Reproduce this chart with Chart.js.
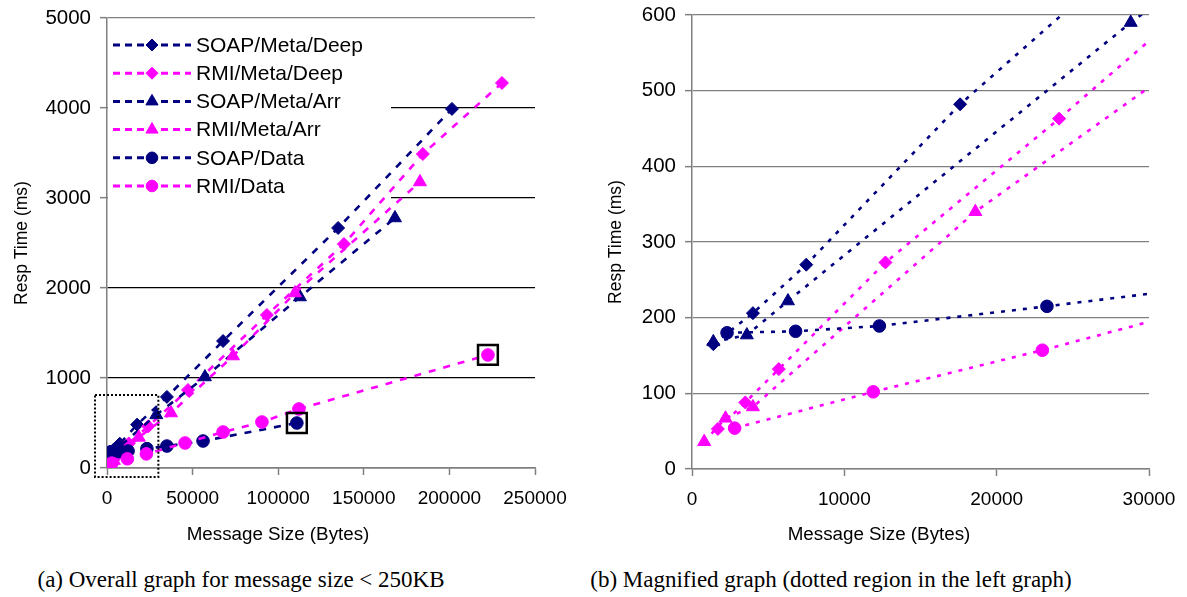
<!DOCTYPE html>
<html>
<head>
<meta charset="utf-8">
<script src="https://cdn.jsdelivr.net/npm/chart.js@4.4.0/dist/chart.umd.min.js"></script>
<style>
  body { margin: 0; background: #fff; width: 1187px; height: 597px; position: relative; overflow: hidden; }
  #chartA { position: absolute; left: 0; top: 0; }
  #chartB { position: absolute; left: 580px; top: 0; }
  .cap { position: absolute; top: 567px; line-height: 26px; font-family: "Liberation Serif", "Times New Roman", serif; font-size: 23px; white-space: nowrap; transform: translateX(-50%); color: #000; }
</style>
</head>
<body>
<canvas id="chartA" width="575" height="560"></canvas>
<canvas id="chartB" width="607" height="560"></canvas>
<div class="cap" style="left:241px">(a) Overall graph for message size &lt; 250KB</div>
<div class="cap" style="left:831px">(b) Magnified graph (dotted region in the left graph)</div>
<script>
const seriesNames = ['SOAP/Meta/Deep', 'RMI/Meta/Deep', 'SOAP/Meta/Arr', 'RMI/Meta/Arr', 'SOAP/Data', 'RMI/Data'];

const soapDeepX = [1400, 4000, 7500, 17600, 35000, 67800, 135000, 201500];
const soapDeepY = [165, 206, 270, 482, 790, 1411, 2667, 3990];
const rmiDeepX = [1700, 3500, 5700, 12700, 24100, 47300, 93400, 138400, 184500, 230700];
const rmiDeepY = [53, 88, 132, 273, 463, 867, 1700, 2489, 3489, 4278];
const soapArrX = [1400, 3600, 6300, 28800, 57200, 112700, 168200];
const soapArrY = [168, 177, 222, 590, 1011, 1900, 2778];
const rmiArrX = [800, 2200, 4000, 18600, 37400, 73600, 109800, 182800];
const rmiArrY = [36, 67, 82, 340, 611, 1244, 1944, 3178];
const soapDataX = [2300, 6800, 12300, 23300, 35000, 56100, 110900];
const soapDataY = [180, 182, 189, 215, 244, 300, 500];
const rmiDataX = [2800, 11900, 23000, 45600, 67800, 90500, 112100, 222500];
const rmiDataY = [54, 102, 157, 278, 400, 511, 656, 1256];

// points boxed in the overall graph, and the region shown magnified
const boxedX = [110900, 222500];
const boxedY = [500, 1256];
const zoomRegionX = [-7000, 30000];
const zoomRegionY = [-100, 810];

const overallXTicks = [0, 50000, 100000, 150000, 200000, 250000];
const overallYTicks = [0, 1000, 2000, 3000, 4000, 5000];
const zoomXTicks = [0, 10000, 20000, 30000];
const zoomYTicks = [0, 100, 200, 300, 400, 500, 600];

const seriesX = [soapDeepX, rmiDeepX, soapArrX, rmiArrX, soapDataX, rmiDataX];
const seriesY = [soapDeepY, rmiDeepY, soapArrY, rmiArrY, soapDataY, rmiDataY];

const NAVY = '#000080';
const PINK = '#ff00ff';
const GRAY = '#808080';
const colors = [NAVY, PINK, NAVY, PINK, NAVY, PINK];
const markers = ['rectRot', 'rectRot', 'triangle', 'triangle', 'circle', 'circle'];
const markerSize = { rectRot: 6.5, triangle: 7.5, circle: 6.3 };
const FONT = '"Liberation Sans", Arial, sans-serif';

function pts(xs, ys) {
  return xs.map((x, i) => ({ x: x, y: ys[i] }));
}

function makeDatasets(dash, width) {
  return seriesNames.map((name, i) => ({
    label: name,
    data: pts(seriesX[i], seriesY[i]),
    borderColor: colors[i],
    backgroundColor: colors[i],
    borderWidth: width,
    borderDash: dash,
    pointStyle: markers[i],
    pointRadius: markerSize[markers[i]],
    pointBorderWidth: 1,
    showLine: true,
    tension: 0,
    order: seriesNames.length - i
  }));
}

function drawMarker(ctx, style, x, y, r, color) {
  ctx.save();
  ctx.fillStyle = color;
  ctx.strokeStyle = color;
  ctx.lineWidth = 1;
  ctx.setLineDash([]);
  ctx.beginPath();
  if (style === 'rectRot') {
    ctx.moveTo(x - r, y); ctx.lineTo(x, y - r); ctx.lineTo(x + r, y); ctx.lineTo(x, y + r);
  } else if (style === 'triangle') {
    ctx.moveTo(x, y - r); ctx.lineTo(x + r * 0.866, y + r / 2); ctx.lineTo(x - r * 0.866, y + r / 2);
  } else {
    ctx.arc(x, y, r, 0, Math.PI * 2);
  }
  ctx.closePath();
  ctx.fill();
  ctx.stroke();
  ctx.restore();
}

const legendPlugin = {
  id: 'boxLegend',
  beforeDatasetsDraw(chart) {
    const ctx = chart.ctx;
    const area = chart.chartArea;
    ctx.save();
    ctx.fillStyle = '#fff';
    ctx.fillRect(area.left + 1, 22, 390 - area.left, 184);
    ctx.font = '21px ' + FONT;
    ctx.textBaseline = 'middle';
    seriesNames.forEach((name, i) => {
      const y = 45 + i * 28.2;
      ctx.strokeStyle = colors[i];
      ctx.lineWidth = 3;
      ctx.setLineDash([7, 5]);
      ctx.beginPath();
      ctx.moveTo(113, y);
      ctx.lineTo(191, y);
      ctx.stroke();
      drawMarker(ctx, markers[i], 152, y, markerSize[markers[i]] - 0.5, colors[i]);
      ctx.fillStyle = '#000';
      ctx.fillText(name, 196, y + 1);
    });
    ctx.restore();
  }
};

const zoomRegionPlugin = {
  id: 'zoomRegion',
  afterDatasetsDraw(chart) {
    const ctx = chart.ctx;
    const xs = chart.scales.x, ys = chart.scales.y;
    const l = xs.getPixelForValue(zoomRegionX[0]), r = xs.getPixelForValue(zoomRegionX[1]);
    const t = ys.getPixelForValue(zoomRegionY[1]), b = ys.getPixelForValue(zoomRegionY[0]);
    ctx.save();
    ctx.strokeStyle = '#000';
    ctx.lineWidth = 2;
    ctx.setLineDash([2, 2]);
    ctx.strokeRect(l, t, r - l, b - t);
    ctx.restore();
  }
};

// x axis title sits a bit left of the plot centre, as in the original
function xTitlePlugin(centerX) {
  return {
    id: 'xTitle',
    afterDraw(chart) {
      const ctx = chart.ctx;
      ctx.save();
      ctx.font = '18.8px ' + FONT;
      ctx.fillStyle = '#000';
      ctx.textAlign = 'center';
      ctx.textBaseline = 'middle';
      ctx.fillText('Message Size (Bytes)', centerX, 535);
      ctx.restore();
    }
  };
}

function axes(xTicks, yTicks, yWidth, xHeight, yTitlePad, gridColor) {
  return {
    x: {
      type: 'linear',
      min: xTicks[0],
      max: xTicks[xTicks.length - 1],
      afterBuildTicks: s => { s.ticks = xTicks.map(v => ({ value: v })); },
      afterFit: s => { s.height = xHeight; s.paddingLeft = 0; s.paddingRight = 0; },
      grid: { drawOnChartArea: false, drawTicks: true, tickLength: 7, tickColor: GRAY, tickWidth: 1.5 },
      border: { color: GRAY, width: 1.5 },
      ticks: { color: '#000', font: { family: FONT, size: 19 }, padding: 12, maxRotation: 0, callback: v => String(v) }
    },
    y: {
      type: 'linear',
      min: yTicks[0],
      max: yTicks[yTicks.length - 1],
      afterBuildTicks: s => { s.ticks = yTicks.map(v => ({ value: v })); },
      afterFit: s => { s.width = yWidth; s.paddingTop = 0; s.paddingBottom = 0; },
      grid: { color: gridColor, lineWidth: 1.3, drawTicks: true, tickLength: 7, tickColor: GRAY, tickWidth: 1.5 },
      border: { color: GRAY, width: 1.5 },
      ticks: { color: '#000', font: { family: FONT, size: 20.5 }, padding: 9, callback: v => String(v) },
      title: { display: true, text: 'Resp Time (ms)', color: '#000', font: { family: FONT, size: 17.5 }, padding: { top: yTitlePad, bottom: 0 } }
    }
  };
}

const overallSets = makeDatasets([7, 8], 2.6);
overallSets.push({
  label: 'boxed',
  data: pts(boxedX, boxedY),
  showLine: false,
  pointStyle: 'rect',
  pointRadius: 14,
  pointBorderWidth: 2.5,
  borderColor: '#000',
  backgroundColor: 'rgba(0,0,0,0)',
  order: -1
});

new Chart(document.getElementById('chartA'), {
  type: 'scatter',
  data: { datasets: overallSets },
  options: {
    responsive: false,
    animation: false,
    layout: { padding: { top: 18, right: 40, left: 0, bottom: 0 } },
    plugins: { legend: { display: false }, tooltip: { enabled: false } },
    scales: axes(overallXTicks, overallYTicks, 107, 92, 12,
      c => c.tick.value === overallYTicks[overallYTicks.length - 1] ? GRAY : '#000')
  },
  plugins: [legendPlugin, zoomRegionPlugin, xTitlePlugin(278)]
});

new Chart(document.getElementById('chartB'), {
  type: 'scatter',
  data: { datasets: makeDatasets([4, 7], 2.6) },
  options: {
    responsive: false,
    animation: false,
    layout: { padding: { top: 15, right: 38, left: 0, bottom: 0 } },
    plugins: { legend: { display: false }, tooltip: { enabled: false } },
    scales: axes(zoomXTicks, zoomYTicks, 112, 91, 26, () => GRAY)
  },
  plugins: [xTitlePlugin(299)]
});
</script>
</body>
</html>
